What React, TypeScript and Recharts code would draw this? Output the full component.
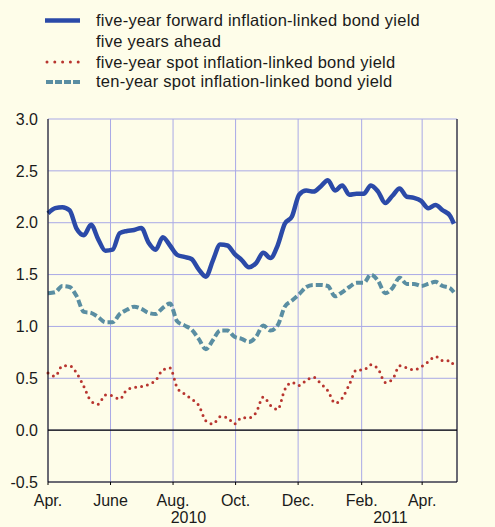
import { LineChart, Line, XAxis, YAxis, CartesianGrid, ReferenceLine } from "recharts"

// days since 1 April 2010, roughly weekly readings
const days = [
  0, 7, 14, 21, 28, 35, 42, 49, 56, 63, 70, 77, 84, 91, 98, 105, 112, 119, 126, 133,
  140, 147, 154, 161, 168, 175, 182, 189, 196, 203, 210, 217, 224, 231, 238, 245, 252, 259, 266, 273,
  280, 287, 294, 301, 308, 315, 322, 329, 336, 343, 350, 357, 364, 371, 378, 385, 392, 396,
]

const forward5y = [
  2.09, 2.14, 2.15, 2.12, 1.94, 1.88, 1.98, 1.84, 1.73, 1.74, 1.9, 1.92, 1.93, 1.95, 1.81, 1.74, 1.86, 1.78, 1.69, 1.67,
  1.65, 1.55, 1.48, 1.64, 1.79, 1.78, 1.7, 1.64, 1.57, 1.61, 1.71, 1.66, 1.78, 1.99, 2.06, 2.27, 2.31, 2.3, 2.35, 2.41,
  2.31, 2.36, 2.27, 2.28, 2.28, 2.36, 2.3, 2.19, 2.26, 2.33, 2.25, 2.24, 2.21, 2.14, 2.17, 2.12, 2.07, 1.99,
]

const spot5y = [
  0.55, 0.52, 0.62, 0.62, 0.55, 0.42, 0.28, 0.25, 0.34, 0.33, 0.3, 0.39, 0.41, 0.42, 0.44, 0.48, 0.58, 0.6, 0.41, 0.35,
  0.3, 0.24, 0.09, 0.06, 0.13, 0.12, 0.06, 0.12, 0.12, 0.17, 0.32, 0.24, 0.2, 0.39, 0.46, 0.43, 0.48, 0.51, 0.45, 0.38,
  0.26, 0.31, 0.44, 0.58, 0.58, 0.63, 0.59, 0.46, 0.49, 0.62, 0.6, 0.58, 0.61, 0.66, 0.71, 0.67, 0.67, 0.62,
]

const spot10y = [
  1.32, 1.33, 1.39, 1.38, 1.29, 1.14, 1.13, 1.09, 1.04, 1.04, 1.12, 1.16, 1.19, 1.17, 1.13, 1.12, 1.18, 1.22, 1.05, 1.01,
  0.97, 0.88, 0.78, 0.87, 0.96, 0.96, 0.9, 0.88, 0.85, 0.9, 1.01, 0.96, 1.01, 1.19, 1.25, 1.31, 1.38, 1.4, 1.4, 1.39,
  1.29, 1.33, 1.38, 1.42, 1.42, 1.5, 1.44, 1.32, 1.37, 1.47, 1.41, 1.41, 1.39, 1.41, 1.43, 1.39, 1.37, 1.33,
]

const monthTicks = [0, 61, 122, 183, 244, 306, 365]
const monthLabels = ["Apr.", "June", "Aug.", "Oct.", "Dec.", "Feb.", "Apr."]
const yearTicks = [137, 334]
const yearLabels = ["2010", "2011"]
const yTicks = [-0.5, 0, 0.5, 1, 1.5, 2, 2.5, 3]

const data = days.map((d, i) => ({
  day: d,
  forward: forward5y[i],
  spot5: spot5y[i],
  spot10: spot10y[i],
}))

const BG = "#fefde9"
const BLUE = "#2b4aa8"
const RED = "#b8352f"
const TEAL = "#5a8ea2"
const GRID = "#a9a9e6"
const font = "'Liberation Sans', Arial, sans-serif"
const tickStyle = { fill: "#1a1a1a", fontSize: 16, fontFamily: font }

const legendText = {
  position: "absolute" as const,
  left: 96,
  fontFamily: font,
  fontSize: 16.5,
  letterSpacing: 0.25,
  color: "#1a1a1a",
  lineHeight: "21px",
  whiteSpace: "nowrap" as const,
}

const App = () => {
  return (
    <div style={{ position: "absolute", left: 0, top: 0, width: 495, height: 527, background: BG, fontFamily: font }}>
      <svg style={{ position: "absolute", left: 0, top: 0 }} width={100} height={100}>
        <line x1={45} x2={80} y1={20.5} y2={20.5} stroke={BLUE} strokeWidth={4.5} />
        <line x1={47} x2={80} y1={62} y2={62} stroke={RED} strokeWidth={3} strokeDasharray="0 7.8" strokeLinecap="round" />
        <line x1={46} x2={80} y1={82} y2={82} stroke={TEAL} strokeWidth={4} strokeDasharray="7 2" />
      </svg>
      <div style={{ ...legendText, top: 10 }}>
        five-year forward inflation-linked bond yield
        <br />
        five years ahead
      </div>
      <div style={{ ...legendText, top: 52 }}>five-year spot inflation-linked bond yield</div>
      <div style={{ ...legendText, top: 71 }}>ten-year spot inflation-linked bond yield</div>

      <div style={{ position: "absolute", left: 0, top: 0 }}>
        <LineChart width={495} height={527} data={data} margin={{ top: 119, right: 0, bottom: 0, left: 0 }}>
          <CartesianGrid stroke={GRID} strokeWidth={1} yAxisId="left" />
          <XAxis
            dataKey="day"
            type="number"
            domain={[0, 399]}
            ticks={monthTicks}
            tickFormatter={(v) => monthLabels[monthTicks.indexOf(v)]}
            interval={0}
            height={22}
            tickSize={3}
            tickMargin={10}
            axisLine={{ stroke: "#000" }}
            tickLine={{ stroke: "#000" }}
            tick={tickStyle}
          />
          <XAxis
            xAxisId="year"
            dataKey="day"
            type="number"
            domain={[0, 399]}
            ticks={yearTicks}
            tickFormatter={(v) => yearLabels[yearTicks.indexOf(v)]}
            interval={0}
            height={23}
            tickSize={0}
            tickMargin={8}
            axisLine={false}
            tickLine={false}
            tick={tickStyle}
          />
          <YAxis
            yAxisId="left"
            domain={[-0.5, 3]}
            ticks={yTicks}
            interval={0}
            width={48}
            tickSize={0}
            tickMargin={10}
            tickLine={false}
            axisLine={{ stroke: "#000" }}
            tickFormatter={(v) => v.toFixed(1)}
            tick={tickStyle}
          />
          <YAxis
            yAxisId="right"
            orientation="right"
            domain={[-0.5, 3]}
            ticks={yTicks}
            interval={0}
            width={38}
            tickSize={0}
            tickMargin={13}
            tickLine={false}
            axisLine={{ stroke: "#000" }}
            tickFormatter={(v) => v.toFixed(1)}
            tick={tickStyle}
          />
          <ReferenceLine yAxisId="left" y={0} stroke="#000" strokeWidth={1.3} />
          <Line
            yAxisId="left"
            type="monotone"
            dataKey="spot10"
            stroke={TEAL}
            strokeWidth={4}
            strokeDasharray="7 3"
            dot={false}
            isAnimationActive={false}
          />
          <Line
            yAxisId="left"
            type="monotone"
            dataKey="spot5"
            stroke={RED}
            strokeWidth={3}
            strokeDasharray="0 6"
            strokeLinecap="round"
            dot={false}
            isAnimationActive={false}
          />
          <Line
            yAxisId="left"
            type="monotone"
            dataKey="forward"
            stroke={BLUE}
            strokeWidth={4.5}
            dot={false}
            isAnimationActive={false}
          />
        </LineChart>
      </div>
    </div>
  )
}

export default App
